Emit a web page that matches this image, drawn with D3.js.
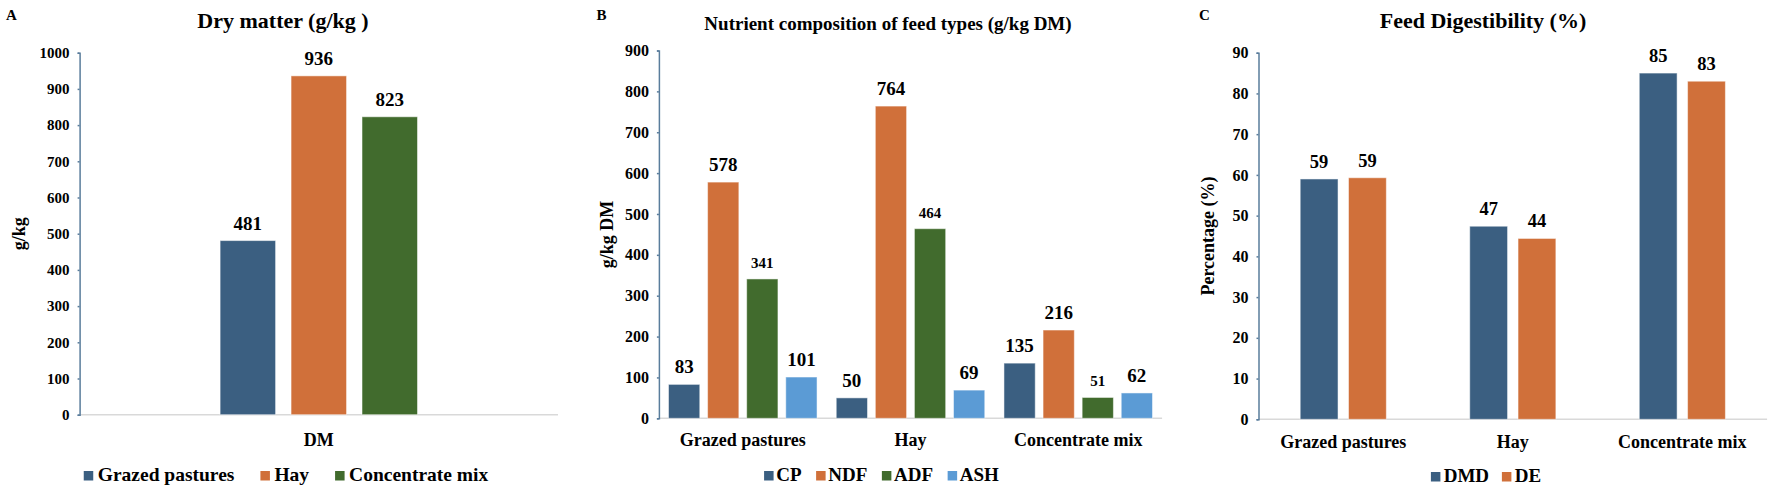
<!DOCTYPE html>
<html>
<script src="https://d3js.org/d3.v7.min.js"></script>
<style>
    body {
        margin: 0;
        background: #fff;
    }

    text {
        font-family: "Liberation Serif", "Times New Roman", serif;
        font-weight: bold;
        fill: #000;
    }
</style>

<body></body>
<script>
    // panel A - dry matter
    const dmGroups = ["DM"];
    const feeds = ["Grazed pastures", "Hay", "Concentrate mix"];
    const dmValues = [481, 936, 823];
    const dmTicks = [0, 100, 200, 300, 400, 500, 600, 700, 800, 900, 1000];

    // panel B - nutrient composition
    const nutrients = ["CP", "NDF", "ADF", "ASH"];
    const cpValues = [83, 50, 135];
    const ndfValues = [578, 764, 216];
    const adfValues = [341, 464, 51];
    const ashValues = [101, 69, 62];
    const nutTicks = [0, 100, 200, 300, 400, 500, 600, 700, 800, 900];

    // panel C - digestibility
    const digest = ["DMD", "DE"];
    const dmdValues = [59.0, 47.4, 85.0];
    const deValues = [59.3, 44.4, 83.0];
    const pctTicks = [0, 10, 20, 30, 40, 50, 60, 70, 80, 90];

    const blue = "#3b5f81",
        orange = "#d0703a",
        green = "#416b2d",
        light = "#5b9bd5";

    const width = 1772,
        height = 491;
    const svg = d3.select("body").append("svg").attr("width", width).attr("height", height);

    function panel(cfg) {
        const g = svg.append("g");
        const y = d3.scaleLinear().domain(cfg.domain).range([cfg.y0, cfg.y1]);
        const x0 = d3.scaleBand().domain(cfg.groups).range([cfg.left, cfg.right]);
        const bw = x0.bandwidth();
        const x1 = d3.scaleBand().domain(cfg.series).range([cfg.side, bw - cfg.side]).paddingInner(cfg.gap);

        // x axis line
        g.append("line")
            .attr("x1", cfg.left).attr("x2", cfg.right)
            .attr("y1", y(0)).attr("y2", y(0))
            .attr("stroke", "#d9d9d9").attr("stroke-width", 1.5);

        const yAxis = g.append("g")
            .attr("transform", `translate(${cfg.left},0)`)
            .call(d3.axisLeft(y).tickValues(cfg.ticks).tickFormat(d3.format("d")).tickSize(2).tickPadding(8));
        yAxis.select(".domain").attr("stroke", "#5a7d9c").attr("stroke-width", 1.5);
        yAxis.selectAll(".tick line").attr("stroke", "#5a7d9c").attr("stroke-width", 1.5);
        yAxis.selectAll(".tick text")
            .attr("font-size", cfg.tickSize)
            .attr("font-family", "Liberation Serif")
            .attr("font-weight", "bold")
            .attr("fill", "#000");

        const rows = cfg.groups.map((grp, i) => ({
            grp,
            vals: cfg.series.map((s, j) => ({ s, j, v: cfg.values[j][i] }))
        }));

        const grp = g.selectAll(".grp")
            .data(rows)
            .join("g")
            .attr("transform", d => `translate(${x0(d.grp)},0)`);

        grp.selectAll("rect")
            .data(d => d.vals)
            .join("rect")
            .attr("x", d => x1(d.s))
            .attr("width", x1.bandwidth())
            .attr("y", d => y(d.v))
            .attr("height", d => y(0) - y(d.v))
            .attr("fill", d => cfg.colors[d.j])
            .attr("stroke", "#ffffff")
            .attr("stroke-opacity", 0.5)
            .attr("stroke-width", 1);

        grp.selectAll(".lbl")
            .data(d => d.vals)
            .join("text")
            .attr("class", "lbl")
            .attr("x", d => x1(d.s) + x1.bandwidth() / 2)
            .attr("y", d => y(d.v) - 11)
            .attr("text-anchor", "middle")
            .attr("font-size", d => cfg.labelSizes[d.j])
            .text(d => d3.format(".0f")(d.v));

        // category labels
        g.selectAll(".cat")
            .data(cfg.groups)
            .join("text")
            .attr("class", "cat")
            .attr("x", d => x0(d) + bw / 2)
            .attr("y", cfg.catY)
            .attr("text-anchor", "middle")
            .attr("font-size", 18)
            .text(d => d);

        // title and letter
        g.append("text")
            .attr("x", cfg.titleX).attr("y", cfg.titleY)
            .attr("text-anchor", "middle")
            .attr("font-size", cfg.titleSize)
            .text(cfg.title);
        g.append("text")
            .attr("x", cfg.letterX).attr("y", 20)
            .attr("text-anchor", "middle")
            .attr("font-size", 15)
            .text(cfg.letter);

        // y label
        g.append("text")
            .attr("transform", `translate(${cfg.yLabelX},${(cfg.y0 + cfg.y1) / 2}) rotate(-90)`)
            .attr("text-anchor", "middle")
            .attr("font-size", 18)
            .text(cfg.yLabel);

        // legend, centred on legendX
        const leg = g.append("g");
        const items = leg.selectAll("g")
            .data(cfg.series)
            .join("g");
        items.append("rect")
            .attr("width", 9.5).attr("height", 9.5)
            .attr("y", cfg.legendY - 10)
            .attr("fill", (d, i) => cfg.colors[i]);
        items.append("text")
            .attr("x", cfg.legendTextOff)
            .attr("y", cfg.legendY)
            .attr("font-size", cfg.legendSize)
            .text(d => d);
        let pos = 0;
        items.each(function () {
            const w = cfg.legendTextOff + d3.select(this).select("text").node().getComputedTextLength();
            d3.select(this).attr("transform", `translate(${pos},0)`);
            pos += w + cfg.legendGap;
        });
        const total = pos - cfg.legendGap;
        leg.attr("transform", `translate(${cfg.legendX - total / 2},0)`);
    }

    panel({
        groups: dmGroups,
        series: feeds,
        values: dmValues.map(v => [v]),
        colors: [blue, orange, green],
        domain: [0, 1000],
        ticks: dmTicks,
        y0: 414.7, y1: 52.7,
        left: 79.6, right: 558,
        side: 140.5, gap: 0.218,
        tickSize: 15,
        labelSizes: [19, 19, 19],
        catY: 445.5,
        title: "Dry matter (g/kg )", titleX: 283, titleY: 28, titleSize: 22,
        letter: "A", letterX: 11.5,
        yLabel: "g/kg", yLabelX: 25,
        legendX: 286, legendY: 481, legendTextOff: 14, legendGap: 26, legendSize: 19.5
    });

    panel({
        groups: feeds,
        series: nutrients,
        values: [cpValues, ndfValues, adfValues, ashValues],
        colors: [blue, orange, green, light],
        domain: [0, 900],
        ticks: nutTicks,
        y0: 418.3, y1: 50.5,
        left: 658.9, right: 1162.1,
        side: 9.6, gap: 0.2,
        tickSize: 16,
        labelSizes: [19, 19, 15, 19],
        catY: 446,
        title: "Nutrient composition of feed types (g/kg DM)", titleX: 888, titleY: 30, titleSize: 19,
        letter: "B", letterX: 601.5,
        yLabel: "g/kg DM", yLabelX: 613,
        legendX: 881.5, legendY: 481, legendTextOff: 12.2, legendGap: 14.5, legendSize: 19
    });

    panel({
        groups: feeds,
        series: digest,
        values: [dmdValues, deValues],
        colors: [blue, orange],
        domain: [0, 90],
        ticks: pctTicks,
        y0: 419.3, y1: 52.7,
        left: 1258.5, right: 1767.1,
        side: 41.7, gap: 0.217,
        tickSize: 16,
        labelSizes: [18.5, 18.5],
        catY: 447.5,
        title: "Feed Digestibility (%)", titleX: 1483, titleY: 28, titleSize: 22,
        letter: "C", letterX: 1204.5,
        yLabel: "Percentage (%)", yLabelX: 1214,
        legendX: 1486, legendY: 482, legendTextOff: 12.8, legendGap: 12.8, legendSize: 19
    });
</script>

</html>
